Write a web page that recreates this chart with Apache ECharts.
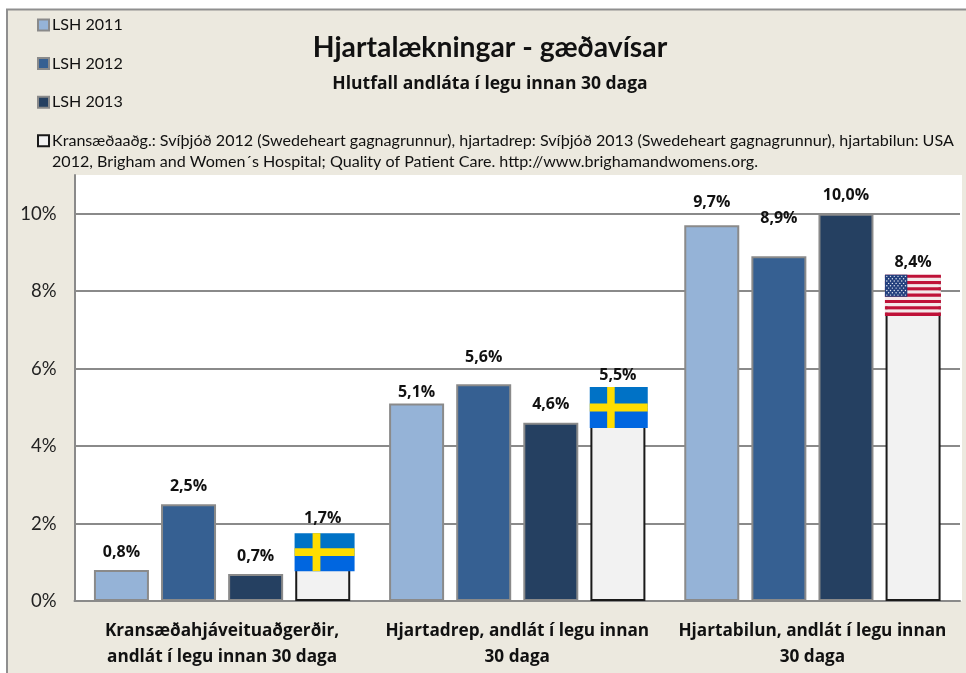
<!DOCTYPE html>
<html><head><meta charset="utf-8">
<style>html,body{margin:0;padding:0;background:#fff}#c{width:966px;height:673px}</style>
<script src="https://cdn.jsdelivr.net/npm/echarts@6/dist/echarts.min.js"></script>
</head><body><div id="c"></div>
<script>
const categories = ['Kransæðahjáveituaðgerðir,\nandlát í legu innan 30 daga','Hjartadrep, andlát í legu innan\n30 daga','Hjartabilun, andlát í legu innan\n30 daga'];
const lsh2011 = [0.8, 5.1, 9.7];
const lsh2012 = [2.5, 5.6, 8.9];
const lsh2013 = [0.7, 4.6, 10.0];
const benchmark = [1.7, 5.5, 8.4];
const flagKinds = ['se', 'se', 'us'];
const seriesNames = ['LSH 2011', 'LSH 2012', 'LSH 2013', 'Kransæðaaðg.: Svíþjóð 2012 (Swedeheart gagnagrunnur), hjartadrep: Svíþjóð 2013 (Swedeheart gagnagrunnur), hjartabilun: USA'];
const noteLine2 = '2012, Brigham and Women´s Hospital; Quality of Patient Care. http://www.brighamandwomens.org.';
const titleText = 'Hjartalækningar - gæðavísar';
const subtitleText = 'Hlutfall andláta í legu innan 30 daga';

const FONT = 'Lato';
const BOLD = '"Open Sans"';
const GREY = '#8a8a8a';
const fmt = v => v.toFixed(1).replace('.', ',') + '%';
const lifts = [[5,-2,10],[5,14,25],[4,5,5],[4,0,0]];
const flagBox = [{w:60,h:38,dx:102.5,dy:-2},{w:58,h:41,dx:101.5,dy:-1},{w:56,h:41,dx:100.5,dy:-1}];

function bar(idx, values, color, border) {
  return {
    name: seriesNames[idx], type: 'bar', barWidth: 55, barGap: '22%',
    itemStyle: {color, borderColor: border, borderWidth: 2},
    data: values.map((v, i) => ({value: v, label: {offset: [0, -lifts[idx][i]]}})),
    label: {show: true, position: 'top', fontFamily: BOLD, fontWeight: 'bold', fontSize: 16, color: '#111',
      formatter: p => fmt(p.value)}
  };
}
function renderFlag(params, api) {
  const i = api.value(0), box = flagBox[i];
  const pt = api.coord([i, api.value(1)]);
  const x = pt[0] + box.dx - box.w / 2, y = pt[1] + box.dy, w = box.w, h = box.h;
  const rect = (rx, ry, rw, rh, fill) => ({type: 'rect', shape: {x: rx, y: ry, width: rw, height: rh}, style: {fill}});
  const kids = [];
  if (flagKinds[i] === 'se') {
    kids.push(rect(x, y, w, h / 2, '#0072C6'));
    kids.push(rect(x, y + h / 2, w, h / 2, '#0066E0'));
    kids.push(rect(x + w * 0.3, y, w * 0.13, h, '#FFDD00'));
    kids.push(rect(x, y + h * 0.4, w, h * 0.2, '#FFDD00'));
  } else {
    const sh = h / 13;
    for (let s = 0; s < 13; s++) kids.push(rect(x, y + s * sh, w, sh + 0.3, s % 2 ? '#F4E9EA' : '#BF1238'));
    const cw = w * 0.4, ch = sh * 7;
    kids.push(rect(x, y, cw, ch, '#24407E'));
    for (let r = 0; r < 9; r++) {
      const n = r % 2 ? 5 : 6;
      for (let c = 0; c < n; c++) {
        kids.push({type: 'circle', shape: {cx: x + (c + (r % 2 ? 1 : 0.5)) * cw / 6, cy: y + (r + 0.7) * ch / 9.4, r: 0.7}, style: {fill: '#E8ECF4'}});
      }
    }
  }
  return {type: 'group', children: kids};
}

const chart = echarts.init(document.getElementById('c'), null, {renderer: 'canvas'});
chart.setOption({
  animation: false,
  backgroundColor: '#fff',
  graphic: [
    {type: 'rect', z: -10, silent: true, shape: {x: 7, y: 9.5, width: 970, height: 680},
      style: {fill: '#ECE9DF', stroke: '#8f8f8f', lineWidth: 2}},
    {type: 'rect', z: -9, silent: true, shape: {x: 74, y: 175, width: 888, height: 426}, style: {fill: '#fff'}},
    {type: 'text', z: 5, silent: true, style: {x: 52, y: 154, text: noteLine2, font: '16.1px ' + FONT, fill: '#111'}}
  ],
  title: {
    text: titleText, subtext: subtitleText, left: 485, top: 29, textAlign: 'center', itemGap: 13,
    textStyle: {fontFamily: FONT, fontSize: 28.3, fontWeight: 'bold', color: '#111'},
    subtextStyle: {fontFamily: BOLD, fontSize: 17.5, fontWeight: 'bold', color: '#111'}
  },
  legend: {
    orient: 'vertical', left: 32, top: 11, itemWidth: 11, itemHeight: 11, itemGap: 20.6,
    data: seriesNames, selectedMode: false, icon: 'rect',
    textStyle: {fontFamily: FONT, fontSize: 16.1, color: '#111', padding: [0, 0, 0, -2], lineHeight: 18}
  },
  grid: {left: 74.5, top: 175, width: 885.5, height: 426, containLabel: false},
  xAxis: {
    type: 'category', data: categories,
    axisLine: {lineStyle: {color: GREY, width: 2}}, axisTick: {show: false},
    axisLabel: {fontFamily: BOLD, fontWeight: 'bold', fontSize: 17.2, color: '#111', lineHeight: 26, margin: 17, interval: 0}
  },
  yAxis: {
    type: 'value', min: 0, max: 11, interval: 2,
    axisLine: {show: true, lineStyle: {color: GREY, width: 2}}, axisTick: {show: false},
    axisLabel: {fontFamily: FONT, fontSize: 18.5, color: '#222', margin: 18, showMaxLabel: false, formatter: v => v + '%'},
    splitLine: {showMaxLine: false, lineStyle: {color: GREY, width: 2}}
  },
  series: [
    bar(0, lsh2011, '#95B3D7', GREY),
    bar(1, lsh2012, '#366092', GREY),
    bar(2, lsh2013, '#254061', GREY),
    bar(3, benchmark, '#F2F2F2', '#1a1a1a'),
    {type: 'custom', name: 'flags', z: 6, renderItem: renderFlag, silent: true,
     encode: {x: 0, y: 1}, data: benchmark.map((v, i) => [i, v])}
  ]
});
</script></body></html>
